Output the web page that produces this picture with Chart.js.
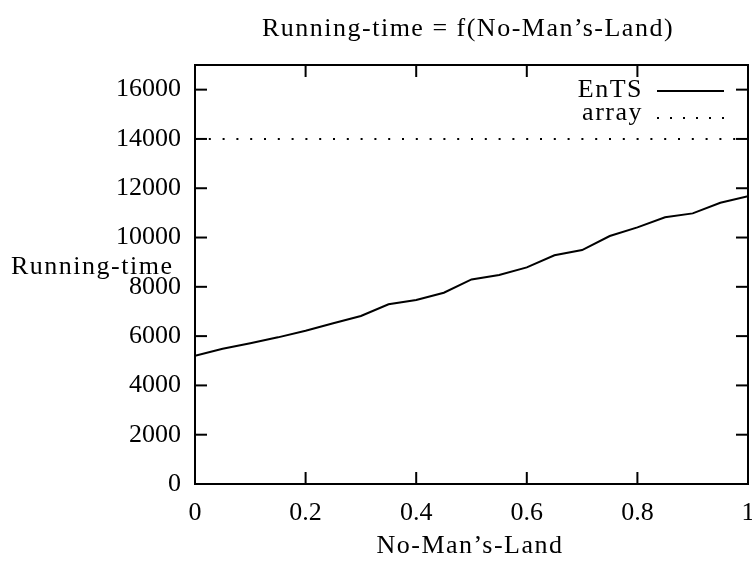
<!DOCTYPE html>
<html>
  <head>
    <script src="https://cdn.jsdelivr.net/npm/chart.js@4.4.1/dist/chart.umd.min.js"></script>
    <style>
      body {
        margin: 0;
        background-color: white;
      }
    </style>
  </head>
  <body>
    <canvas id="runChart" width="752" height="563"></canvas>
  <script>
    // values
    let noMansLand = [0, 0.05, 0.1, 0.15, 0.2, 0.25, 0.3, 0.35, 0.4, 0.45, 0.5,
                      0.55, 0.6, 0.65, 0.7, 0.75, 0.8, 0.85, 0.9, 0.95, 1];
    let entsTimes = [5200, 5490, 5710, 5950, 6220, 6520, 6815, 7290, 7465, 7760, 8300,
                     8480, 8790, 9280, 9490, 10060, 10410, 10820, 10980, 11410, 11680];
    let arrayTimes = [14000, 14000, 14000, 14000, 14000, 14000, 14000, 14000, 14000, 14000, 14000,
                      14000, 14000, 14000, 14000, 14000, 14000, 14000, 14000, 14000, 14000];
    let seriesNames = ["EnTS", "array"];
    let xTickValues = [0, 0.2, 0.4, 0.6, 0.8, 1];
    let xTickLabels = ["0", "0.2", "0.4", "0.6", "0.8", "1"];
    let yTickValues = [0, 2000, 4000, 6000, 8000, 10000, 12000, 14000, 16000];
    let yTickLabels = ["0", "2000", "4000", "6000", "8000", "10000", "12000", "14000", "16000"];
    let titleText = "Running-time = f(No-Man\u2019s-Land)";
    let xTitle = "No-Man\u2019s-Land";
    let yTitle = "Running-time";

    let fontFamily = '"Liberation Serif", "DejaVu Serif", serif';
    let fontSize = 26;

    function points(ys) {
      return noMansLand.map(function (x, i) { return {x: x, y: ys[i]}; });
    }

    function line(ctx, x1, y1, x2, y2) {
      ctx.beginPath();
      ctx.moveTo(x1, y1);
      ctx.lineTo(x2, y2);
      ctx.stroke();
    }

    function noPadding(scale) {
      scale.paddingLeft = 0;
      scale.paddingRight = 0;
      scale.paddingTop = 0;
      scale.paddingBottom = 0;
    }

    // gnuplot-like frame, inner ticks, titles and legend
    let gnuplotLook = {
      id: 'gnuplotLook',
      afterDraw: function (chart) {
        let ctx = chart.ctx;
        let a = chart.chartArea;
        let xs = chart.scales.x;
        let ys = chart.scales.y;
        ctx.save();
        ctx.strokeStyle = '#000';
        ctx.lineWidth = 2;
        ctx.strokeRect(a.left, a.top, a.right - a.left, a.bottom - a.top);

        ys.ticks.forEach(function (t) {
          let py = ys.getPixelForValue(t.value);
          line(ctx, a.left, py, a.left + 12, py);
          line(ctx, a.right - 12, py, a.right, py);
        });
        xs.ticks.forEach(function (t) {
          let px = xs.getPixelForValue(t.value);
          line(ctx, px, a.bottom, px, a.bottom - 12);
          line(ctx, px, a.top, px, a.top + 12);
        });

        ctx.fillStyle = '#000';
        ctx.font = fontSize + 'px ' + fontFamily;
        ctx.letterSpacing = '1.5px';
        ctx.textBaseline = 'middle';
        ctx.textAlign = 'center';
        ctx.fillText(titleText, 468, 29);
        ctx.fillText(xTitle, 470, 546);
        ctx.textAlign = 'left';
        ctx.fillText(yTitle, 11, 267);

        // legend, text before sample
        let ds = chart.data.datasets;
        let rows = [90, 113];
        ds.forEach(function (d, i) {
          ctx.textAlign = 'right';
          ctx.fillText(d.label, 643, rows[i]);
          ctx.strokeStyle = d.borderColor;
          ctx.lineWidth = d.borderWidth;
          ctx.setLineDash(i === 0 ? [] : [2, 11]);
          let ly = i === 0 ? 91 : 118;
          line(ctx, 657, ly, i === 0 ? 724 : 726, ly);
          ctx.setLineDash([]);
        });
        ctx.restore();
      }
    };

    var ctx = document.getElementById('runChart').getContext('2d');
    var runChart = new Chart(ctx, {
      type: 'line',
      data: {
        datasets: [
          {
            label: seriesNames[0],
            data: points(entsTimes),
            borderColor: '#000',
            borderWidth: 2,
            pointRadius: 0,
            tension: 0
          },
          {
            label: seriesNames[1],
            data: points(arrayTimes),
            borderColor: '#000',
            borderWidth: 2,
            borderDash: [2, 11.8],
            pointRadius: 0,
            tension: 0
          }
        ]
      },
      options: {
        responsive: false,
        animation: false,
        layout: {padding: {top: 65, right: 4, bottom: 0, left: 0}},
        plugins: {
          legend: {display: false},
          tooltip: {enabled: false}
        },
        scales: {
          x: {
            type: 'linear',
            min: 0,
            max: 1,
            grid: {display: false, drawTicks: false},
            border: {display: false},
            ticks: {
              padding: 14,
              color: '#000',
              maxRotation: 0,
              autoSkip: false,
              font: {family: fontFamily, size: fontSize},
              callback: function (value, index) { return xTickLabels[index]; }
            },
            afterBuildTicks: function (scale) {
              scale.ticks = xTickValues.map(function (v) { return {value: v}; });
            },
            afterFit: function (scale) {
              scale.height = 79;
              noPadding(scale);
            }
          },
          y: {
            min: 0,
            max: 17000,
            grid: {display: false, drawTicks: false},
            border: {display: false},
            ticks: {
              padding: 14,
              color: '#000',
              autoSkip: false,
              font: {family: fontFamily, size: fontSize},
              callback: function (value, index) { return yTickLabels[index]; }
            },
            afterBuildTicks: function (scale) {
              scale.ticks = yTickValues.map(function (v) { return {value: v}; });
            },
            afterFit: function (scale) {
              scale.width = 195;
              noPadding(scale);
            }
          }
        }
      },
      plugins: [gnuplotLook]
    });
  </script>
  </body>
</html>
